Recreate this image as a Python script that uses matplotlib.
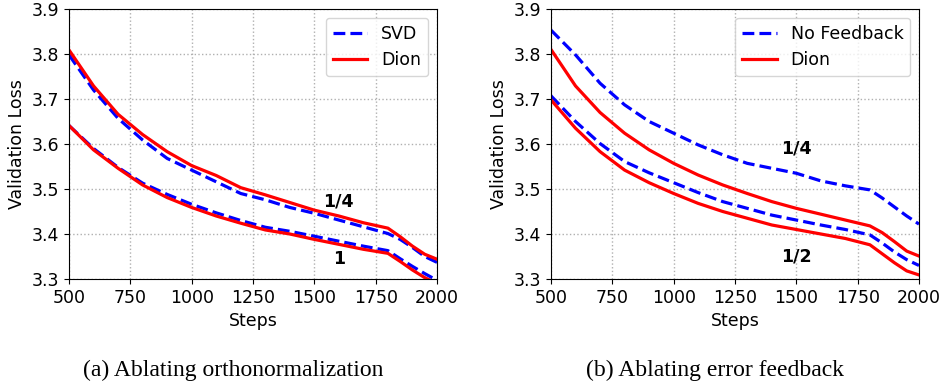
import matplotlib
matplotlib.use("Agg")
import matplotlib.pyplot as plt

steps = [500, 600, 700, 800, 900, 1000, 1100, 1200, 1300, 1400, 1500, 1600, 1700, 1800, 1850, 1900, 1950, 2000]

# (a) ablating orthonormalization
svd_q4 = [3.798, 3.720, 3.657, 3.609, 3.568, 3.542, 3.516, 3.490, 3.476, 3.459, 3.446, 3.431, 3.416, 3.401,
          3.388, 3.370, 3.350, 3.337]
dion_q4 = [3.809, 3.729, 3.666, 3.621, 3.583, 3.552, 3.530, 3.503, 3.487, 3.470, 3.453, 3.440, 3.425, 3.413,
           3.394, 3.373, 3.355, 3.344]
svd_q1 = [3.641, 3.590, 3.548, 3.513, 3.488, 3.466, 3.447, 3.430, 3.415, 3.406, 3.395, 3.384, 3.373, 3.363,
          3.345, 3.328, 3.312, 3.297]
dion_q1 = [3.641, 3.587, 3.546, 3.509, 3.481, 3.459, 3.440, 3.424, 3.409, 3.400, 3.388, 3.377, 3.366, 3.357,
           3.339, 3.320, 3.303, 3.290]

# (b) ablating error feedback
nofb_q4 = [3.853, 3.798, 3.735, 3.687, 3.650, 3.624, 3.598, 3.576, 3.557, 3.546, 3.535, 3.518, 3.507, 3.498,
           3.480, 3.460, 3.440, 3.422]
dionb_q4 = [3.810, 3.729, 3.670, 3.624, 3.587, 3.557, 3.531, 3.509, 3.490, 3.472, 3.457, 3.444, 3.431, 3.418,
            3.403, 3.383, 3.362, 3.351]
nofb_q2 = [3.707, 3.650, 3.601, 3.561, 3.536, 3.514, 3.492, 3.472, 3.457, 3.442, 3.431, 3.420, 3.410, 3.398,
           3.380, 3.360, 3.343, 3.330]
dionb_q2 = [3.698, 3.635, 3.583, 3.542, 3.514, 3.490, 3.468, 3.450, 3.435, 3.420, 3.410, 3.400, 3.390, 3.376,
            3.356, 3.336, 3.318, 3.309]

FS = 12.5
W, H = 943, 383

fig = plt.figure(figsize=(W / 100, H / 100), dpi=100)
ax1 = fig.add_axes([69 / W, 1 - 279 / H, 368 / W, 270 / H])
ax2 = fig.add_axes([551 / W, 1 - 279 / H, 368 / W, 270 / H])


def style(ax):
    ax.set_xlim(500, 2000)
    ax.set_ylim(3.3, 3.9)
    ax.set_xticks([500, 750, 1000, 1250, 1500, 1750, 2000])
    ax.set_yticks([3.3, 3.4, 3.5, 3.6, 3.7, 3.8, 3.9])
    ax.tick_params(labelsize=FS)
    ax.grid(True, linestyle=":", color="#b0b0b0", linewidth=1)
    ax.set_xlabel("Steps", fontsize=FS)
    ax.set_ylabel("Validation Loss", fontsize=FS)


lw = 2.3
ax1.plot(steps, svd_q4, "--", color="blue", lw=lw, label="SVD")
ax1.plot(steps, dion_q4, "-", color="red", lw=lw, label="Dion")
ax1.plot(steps, svd_q1, "--", color="blue", lw=lw)
ax1.plot(steps, dion_q1, "-", color="red", lw=lw)
ax1.text(1598, 3.473, "1/4", fontsize=FS, fontweight="bold", ha="center", va="center")
ax1.text(1600, 3.344, "1", fontsize=FS, fontweight="bold", ha="center", va="center")
style(ax1)
ax1.legend(loc="upper right", fontsize=FS)

ax2.plot(steps, nofb_q4, "--", color="blue", lw=lw, label="No Feedback")
ax2.plot(steps, dionb_q4, "-", color="red", lw=lw, label="Dion")
ax2.plot(steps, nofb_q2, "--", color="blue", lw=lw)
ax2.plot(steps, dionb_q2, "-", color="red", lw=lw)
ax2.text(1498, 3.589, "1/4", fontsize=FS, fontweight="bold", ha="center", va="center")
ax2.text(1500, 3.351, "1/2", fontsize=FS, fontweight="bold", ha="center", va="center")
style(ax2)
ax2.legend(loc="upper right", fontsize=FS)

fig.text(233 / W, 1 - 370 / H, "(a) Ablating orthonormalization", family="Liberation Serif",
         fontsize=17, ha="center", va="center")
fig.text(715 / W, 1 - 370 / H, "(b) Ablating error feedback", family="Liberation Serif",
         fontsize=17, ha="center", va="center")

fig.savefig("out.png", dpi=100)
